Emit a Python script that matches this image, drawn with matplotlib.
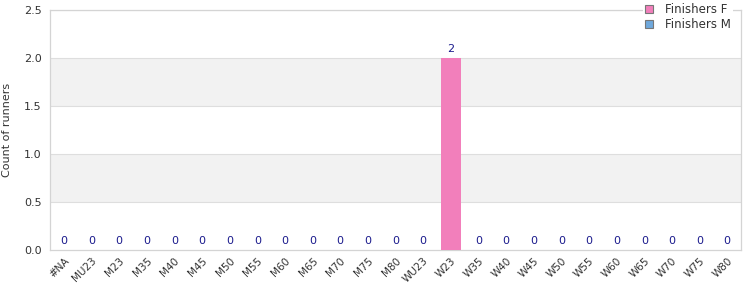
import matplotlib
matplotlib.use('Agg')
import matplotlib.pyplot as plt
from matplotlib.patches import Patch
import numpy as np

# age categories and counts
categories = ['#NA', 'MU23', 'M23', 'M35', 'M40', 'M45', 'M50', 'M55', 'M60',
              'M65', 'M70', 'M75', 'M80', 'WU23', 'W23', 'W35', 'W40', 'W45',
              'W50', 'W55', 'W60', 'W65', 'W70', 'W75', 'W80']
finishers_f = [0, 0, 0, 0, 0, 0, 0, 0, 0, 0, 0, 0, 0, 0, 2, 0, 0, 0, 0, 0, 0, 0, 0, 0, 0]
finishers_m = [0] * len(categories)
y_ticks = [0.0, 0.5, 1.0, 1.5, 2.0, 2.5]

col_f = '#f27fbb'
col_m = '#6fa8dc'
grid_col = '#dedede'
text_col = '#333333'

fig = plt.figure(figsize=(7.5, 3), dpi=100)
ax = fig.add_axes([50 / 750, 50 / 300, 691 / 750, 240 / 300])

x = np.arange(len(categories))
f = np.array(finishers_f)
m = np.array(finishers_m)

ax.bar(x, f, width=0.72, color=col_f, zorder=3)
ax.bar(x, m, width=0.72, bottom=f, color=col_m, zorder=3)

# value labels on top of each stack
totals = f + m
for xi, t in zip(x, totals):
    ax.annotate(str(int(t)), (xi, t), xytext=(0, 3), textcoords='offset points',
                ha='center', va='bottom', fontsize=8, color='#1a1a8c', zorder=4)

ax.set_xlim(-0.5, len(categories) - 0.5)
ax.set_ylim(0, 2.5)
ax.set_yticks(y_ticks)
ax.set_yticklabels([f'{v:.1f}' for v in y_ticks])

# alternate shaded bands
for lo in (0.5, 1.5):
    ax.axhspan(lo, lo + 0.5, color='#f2f2f2', zorder=0, lw=0)
for v in y_ticks[1:]:
    ax.axhline(v, color=grid_col, lw=0.8, zorder=1)

ax.set_xticks(x)
ax.set_xticklabels(categories, rotation=45, ha='right', rotation_mode='anchor',
                   fontsize=7.5, color=text_col)
ax.tick_params(axis='y', labelsize=8, labelcolor=text_col, length=0, pad=6)
ax.tick_params(axis='x', length=0, pad=4)
ax.set_ylabel('Count of runners', fontsize=8, color=text_col, va='center')
ax.yaxis.set_label_coords(-43 / 691, 0.5)

for s in ax.spines.values():
    s.set_color('#d4d4d4')
    s.set_linewidth(0.9)

handles = [Patch(facecolor=col_f, edgecolor='#777777', lw=0.8, label='Finishers F'),
           Patch(facecolor=col_m, edgecolor='#777777', lw=0.8, label='Finishers M')]
leg = fig.legend(handles=handles, loc='upper right', bbox_to_anchor=(734 / 750, 1.0),
                 frameon=True, fancybox=False, framealpha=1, edgecolor='none',
                 fontsize=8.5, handlelength=0.7, handleheight=0.7, handletextpad=1.0,
                 labelspacing=0.2, borderpad=0.15, borderaxespad=0.1)
leg.get_frame().set_facecolor('white')
for t in leg.get_texts():
    t.set_color(text_col)

fig.savefig('out.png', dpi=100, facecolor='white')
